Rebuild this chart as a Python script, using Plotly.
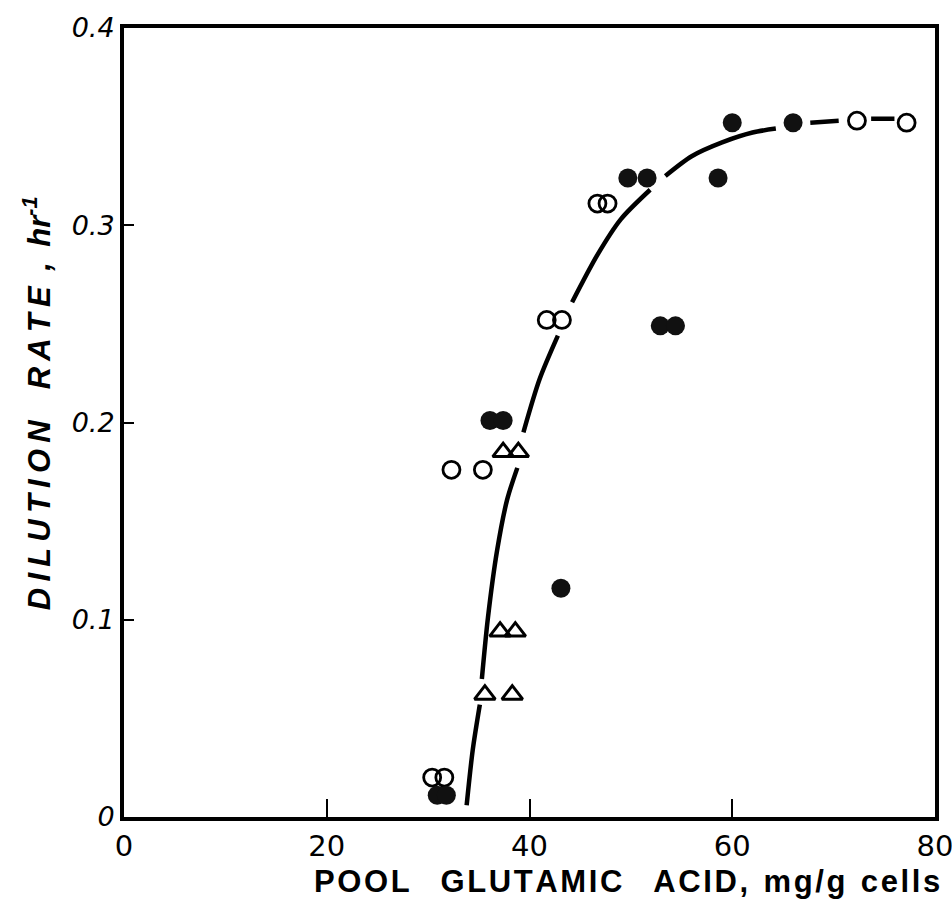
import plotly.graph_objects as go

# Open circles
open_x = [30.4, 31.6, 32.3, 35.4, 41.7, 43.2, 46.7, 47.7, 72.3, 77.2]
open_y = [0.020, 0.020, 0.176, 0.176, 0.252, 0.252, 0.311, 0.311, 0.353, 0.352]

# Filled circles
fill_x = [30.9, 31.8, 36.1, 37.4, 43.1, 49.7, 51.6, 52.9, 54.4, 58.6, 60.0, 66.0]
fill_y = [0.011, 0.011, 0.201, 0.201, 0.116, 0.324, 0.324, 0.249, 0.249, 0.324, 0.352, 0.352]

# Open triangles
tri_x = [37.4, 38.9, 37.1, 38.6, 35.6, 38.3]
tri_y = [0.185, 0.185, 0.094, 0.094, 0.062, 0.062]

# Fitted curve (broken where it passes markers)
curve_x = [33.8, 34.4, 35.1, None, 35.3, 35.9, 36.8, 37.8, 38.8, None,
           39.4, 41.0, 42.8, None, 44.2, 46.7, 49.0, 51.9, None,
           53.4, 56.0, 59.0, 62.0, 64.3, None, 67.7, 70.5, None, 73.7, 76.0]
curve_y = [0.006, 0.034, 0.057, None, 0.070, 0.101, 0.135, 0.161, 0.177, None,
           0.195, 0.222, 0.244, None, 0.261, 0.285, 0.303, 0.318, None,
           0.325, 0.335, 0.342, 0.347, 0.349, None, 0.352, 0.353, None, 0.354, 0.354]

x_ticks = [0, 20, 40, 60, 80]
y_ticks = [0, 0.1, 0.2, 0.3, 0.4]
y_ticklabels = ["0", "0.1", "0.2", "0.3", "0.4"]

HS = "\u200a"   # hair space (letter spacing)
WS = "\u2002\u2002"  # wide word gap


def spaced(s, sep=HS):
    return sep.join(s)


fig = go.Figure()
fig.add_trace(go.Scatter(x=curve_x, y=curve_y, mode="lines", connectgaps=False,
                         line=dict(color="black", width=4.5, shape="spline", smoothing=0.8),
                         showlegend=False, hoverinfo="skip"))
fig.add_trace(go.Scatter(x=open_x, y=open_y, mode="markers",
                         marker=dict(symbol="circle-open", size=17, color="black",
                                     line=dict(width=2.8, color="black")),
                         showlegend=False))
fig.add_trace(go.Scatter(x=fill_x, y=fill_y, mode="markers",
                         marker=dict(symbol="circle", size=19, color="#111111",
                                     line=dict(width=0)),
                         showlegend=False))
fig.add_trace(go.Scatter(x=tri_x, y=tri_y, mode="markers",
                         marker=dict(symbol="triangle-up-open", size=18, color="black",
                                     line=dict(width=3, color="black")),
                         showlegend=False))

x_title = (spaced("POOL") + WS + spaced("GLUTAMIC") + WS + spaced("ACID,") + "\u2002"
           + spaced("mg/g") + "\u2002" + spaced("cells"))
y_title = (spaced("DILUTION", "\u2009") + WS + spaced("RATE", "\u2009") + "\u2002,\u2002hr<sup>-1</sup>")

fig.update_layout(
    width=952, height=916,
    margin=dict(l=124, r=17, t=28, b=99),
    paper_bgcolor="white", plot_bgcolor="white",
    xaxis=dict(range=[0, 80], tickvals=x_ticks, ticktext=[str(v) for v in x_ticks],
               ticks="inside", ticklen=18, tickwidth=2, tickcolor="black",
               showline=True, linewidth=4, linecolor="black", mirror=True,
               showgrid=False, zeroline=False, ticklabeloverflow="allow",
               automargin=False,
               tickfont=dict(family="DejaVu Sans", size=29, color="black")),
    yaxis=dict(range=[0, 0.4], tickvals=y_ticks, ticktext=y_ticklabels,
               ticks="inside", ticklen=10, tickwidth=2, tickcolor="black",
               showline=True, linewidth=4, linecolor="black", mirror=True,
               showgrid=False, zeroline=False, automargin=False,
               tickfont=dict(family="DejaVu Sans", size=27, color="black", style="italic")),
    annotations=[
        dict(text="<b>" + x_title + "</b>", xref="paper", yref="paper",
             x=0.62, y=-0.082, xanchor="center", yanchor="middle", showarrow=False,
             font=dict(family="Liberation Sans", size=31, color="black")),
        dict(text="<b><i>" + y_title + "</i></b>", xref="paper", yref="paper",
             x=-0.108, y=0.525, xanchor="center", yanchor="middle", showarrow=False,
             textangle=-90,
             font=dict(family="Liberation Sans", size=31, color="black")),
    ],
)

fig.write_html("out.html")
